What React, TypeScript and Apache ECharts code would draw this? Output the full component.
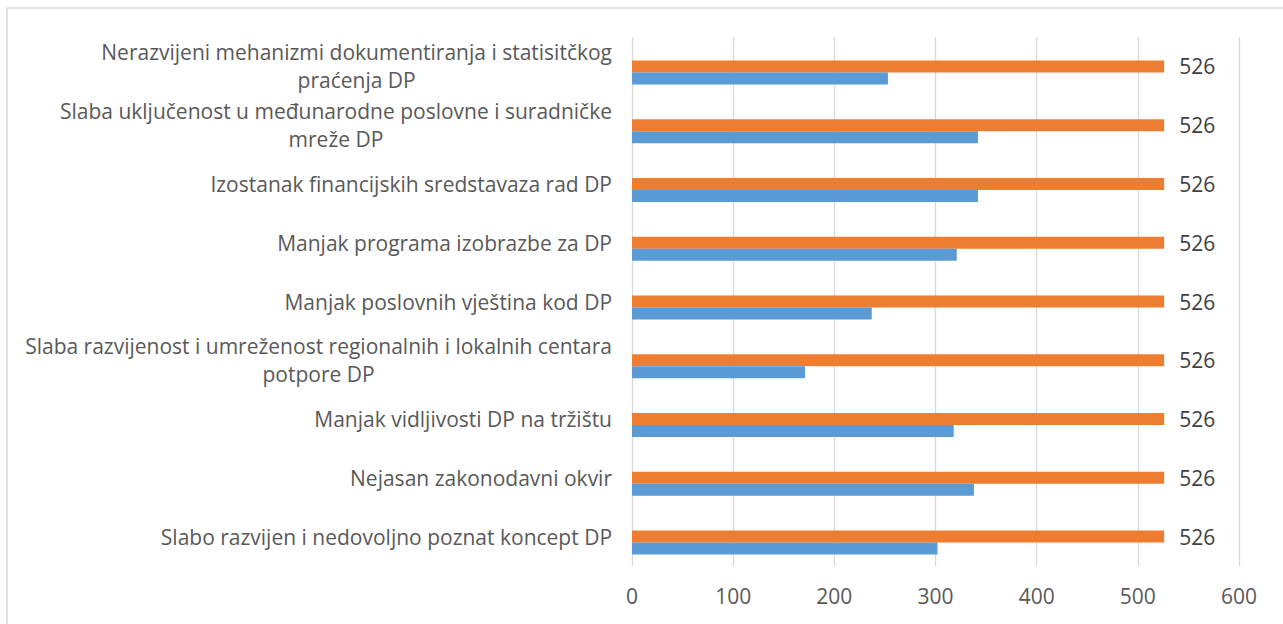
import React, { useEffect, useRef } from "react";
import * as echarts from "echarts";

// bottom to top
const categories = [
  "Slabo razvijen i nedovoljno poznat koncept DP",
  "Nejasan zakonodavni okvir",
  "Manjak vidljivosti DP na tržištu",
  "Slaba razvijenost i umreženost regionalnih i lokalnih centara\npotpore DP",
  "Manjak poslovnih vještina kod DP",
  "Manjak programa izobrazbe za DP",
  "Izostanak financijskih sredstavaza rad DP",
  "Slaba uključenost u međunarodne poslovne i suradničke\nmreže DP",
  "Nerazvijeni mehanizmi dokumentiranja i statisitčkog\npraćenja DP",
];
const totalValues = [526, 526, 526, 526, 526, 526, 526, 526, 526];
const answerValues = [302, 338, 318, 171, 237, 321, 342, 342, 253];
const xTicks = [0, 100, 200, 300, 400, 500, 600];

const FONT = "'Open Sans', 'Noto Sans', sans-serif";
const TXT = "#595959";

export default function App() {
  const ref = useRef<HTMLDivElement>(null);
  useEffect(() => {
    document.body.style.margin = "0";
    const chart = echarts.init(ref.current!, null, { renderer: "svg" });
    chart.setOption({
      animation: false,
      backgroundColor: "#ffffff",
      graphic: [
        {
          type: "rect",
          shape: { x: 7, y: 8, width: 1290, height: 640 },
          style: { fill: "none", stroke: "#d9d9d9", lineWidth: 1.5 },
          silent: true,
        },
      ],
      grid: { left: 632, right: 44, top: 37, bottom: 58, containLabel: false },
      xAxis: {
        type: "value",
        min: xTicks[0],
        max: xTicks[xTicks.length - 1],
        interval: 100,
        axisLine: { show: false },
        axisTick: { show: false },
        splitLine: { show: true, lineStyle: { color: "#d9d9d9", width: 1.3 } },
        axisLabel: { color: TXT, fontSize: 21, fontFamily: FONT, margin: 19 },
      },
      yAxis: {
        type: "category",
        data: categories,
        axisLine: { show: false },
        axisTick: { show: false },
        axisLabel: {
          margin: 20,
          align: "right",
          formatter: (v: string) =>
            v
              .split("\n")
              .map((l) => `{c|${l}}`)
              .join("\n"),
          rich: {
            c: {
              align: "center",
              color: TXT,
              fontSize: 21,
              fontFamily: FONT,
              lineHeight: 28,
            },
          },
        },
      },
      series: [
        {
          name: "spacer",
          type: "bar",
          data: categories.map(() => null),
          barWidth: 12,
          barGap: "0%",
          silent: true,
        },
        {
          name: "Ukupno",
          type: "bar",
          data: totalValues,
          barWidth: 12,
          barGap: "0%",
          itemStyle: { color: "#ed7d31" },
          label: {
            show: true,
            position: "right",
            distance: 15,
            color: "#404040",
            fontSize: 21,
            fontFamily: FONT,
          },
        },
        {
          name: "Odgovori",
          type: "bar",
          data: answerValues,
          barWidth: 12,
          barGap: "0%",
          itemStyle: { color: "#5b9bd5" },
        },
      ],
    });
    return () => chart.dispose();
  }, []);
  return (
    <div
      ref={ref}
      style={{ position: "fixed", left: 0, top: 0, width: 1283, height: 624 }}
    />
  );
}
